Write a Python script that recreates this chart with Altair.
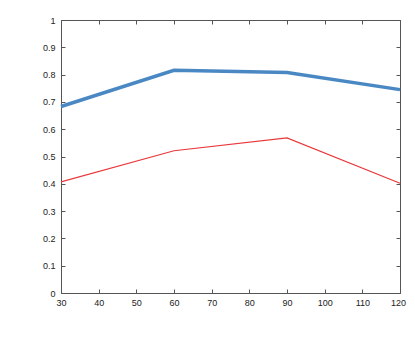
import altair as alt
import pandas as pd

x_vals = [30, 60, 90, 120]
blue_vals = [0.683, 0.816, 0.808, 0.745]
red_vals = [0.407, 0.521, 0.568, 0.402]
x_ticks = [30, 40, 50, 60, 70, 80, 90, 100, 110, 120]
y_ticks = [0, 0.1, 0.2, 0.3, 0.4, 0.5, 0.6, 0.7, 0.8, 0.9, 1]

W, H = 339, 273

blue_df = pd.DataFrame({"x": x_vals, "y": blue_vals})
red_df = pd.DataFrame({"x": x_vals, "y": red_vals})

xs = alt.Scale(domain=[30, 120], nice=False, zero=False)
ys = alt.Scale(domain=[0, 1], nice=False)

lab = dict(labelFont="Liberation Sans", labelFontSize=9, labelColor="#222222",
           labelFlush=False)

# main axes: labels, no ticks
base = alt.Chart(blue_df).mark_line(color="#4a88c4", strokeWidth=3.5).encode(
    x=alt.X("x:Q", scale=xs, title=None,
            axis=alt.Axis(values=x_ticks, grid=False, ticks=False, domain=False,
                          labelPadding=5, format="d",
                          labelOffset={"condition": {"test": "datum.value == 120", "value": -2},
                                       "value": 0},
                          **lab)),
    y=alt.Y("y:Q", scale=ys, title=None,
            axis=alt.Axis(values=y_ticks, grid=False, ticks=False, domain=False,
                          labelPadding=6, format="~g", **lab)),
)

# inward ticks at bottom and left edges
ticks1 = alt.Chart(red_df).mark_line(color="#e8383a", strokeWidth=1.2).encode(
    x=alt.X("x:Q", scale=xs, title=None,
            axis=alt.Axis(orient="top", offset=-H, values=x_ticks, grid=False,
                          labels=False, domain=False, tickSize=4, tickColor="#555555")),
    y=alt.Y("y:Q", scale=ys, title=None,
            axis=alt.Axis(orient="right", offset=-W, values=y_ticks, grid=False,
                          labels=False, domain=False, tickSize=4, tickColor="#555555")),
)

# inward ticks at top and right edges
ticks2 = alt.Chart(red_df).mark_line(opacity=0).encode(
    x=alt.X("x:Q", scale=xs, title=None,
            axis=alt.Axis(orient="bottom", offset=-H, values=x_ticks, grid=False,
                          labels=False, domain=False, tickSize=4, tickColor="#555555")),
    y=alt.Y("y:Q", scale=ys, title=None,
            axis=alt.Axis(orient="left", offset=-W, values=y_ticks, grid=False,
                          labels=False, domain=False, tickSize=4, tickColor="#555555")),
)

chart = (
    alt.layer(base, ticks1, ticks2)
    .resolve_scale(x="shared", y="shared")
    .resolve_axis(x="independent", y="independent")
    .properties(width=W, height=H, autosize=alt.AutoSizeParams(type="none"),
                padding={"left": 53, "top": 12, "right": 7, "bottom": 28})
    .configure_view(stroke="#555555", strokeWidth=1)
)

chart.save("out.html", embed_options={"renderer": "svg", "actions": False})
